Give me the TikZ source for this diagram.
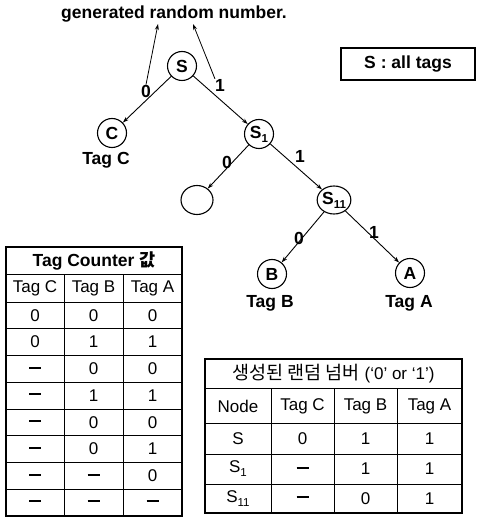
\documentclass[tikz,border=0pt]{standalone}
\usepackage{fontspec}
\setmainfont{Liberation Sans}
\newfontfamily\kr{Noto Sans CJK KR}
\usetikzlibrary{shapes.geometric,arrows.meta}
\newcommand\lowidx[1]{\raisebox{-0.45ex}{\fontsize{11.5}{11.5}\selectfont#1}}
\newcommand\nil{\rule[0.3ex]{12pt}{2pt}}
\begin{document}
\begin{tikzpicture}[x=1pt,y=-1pt,
  tnode/.style={draw,circle,minimum size=29pt,inner sep=0pt,line width=1.1pt,
    font=\fontsize{17.5}{20}\selectfont\bfseries},
  tovl/.style={tnode,ellipse,minimum width=32pt,minimum height=29pt},
  btxt/.style={inner sep=0pt,font=\fontsize{17.5}{20}\selectfont\bfseries},
  edge/.style={line width=0.9pt,-{Stealth[length=6pt,width=4pt]}},
  ptr/.style={line width=0.8pt,-{Stealth[length=6pt,width=4pt]}},
  cell/.style={inner sep=0pt,font=\fontsize{17}{19}\selectfont},
  outer/.style={line width=2.4pt},
  inner/.style={line width=0.9pt}]
\useasboundingbox (0,0) rectangle (476,518);

% heading of the pointers
\node[btxt] (gen) at (174,14) {generated random number.};
\coordinate (t0) at (158,24);
\coordinate (t1) at (193,24);

% legend
\node[draw,line width=2.4pt,minimum width=134pt,minimum height=32pt,btxt] (legend) at (408,64) {S : all tags};

% tree
\node[tnode] (S) at (182,66) {S};
\node[tnode] (C) at (112,133) {C};
\node[tnode] (S1) at (259,134) {S\lowidx{1}};
\node[tovl] (E) at (197,200) {};
\node[tovl,minimum width=33pt,minimum height=28pt] (S11) at (334,200) {S\lowidx{11}};
\node[tnode] (B) at (272,274) {B};
\node[tnode] (A) at (410,273) {A};

\node[btxt] (tagC) at (106,160) {Tag C};
\node[btxt] (tagB) at (270,303) {Tag B};
\node[btxt] (tagA) at (409,303) {Tag A};

\draw[edge] (S) -- (C);
\draw[edge] (S) -- (S1);
\draw[edge] (S1) -- (E);
\draw[edge] (S1) -- (S11);
\draw[edge] (S11) -- (B);
\draw[edge] (S11) -- (A);

\node[btxt] (l0) at (146,91) {0};
\node[btxt] (l1) at (220,85) {1};
\node[btxt] (l2) at (227,162) {0};
\node[btxt] (l3) at (300,156) {1};
\node[btxt] (l4) at (299,238) {0};
\node[btxt] (l5) at (374,232) {1};

\draw[ptr] (l0.north) -- (t0);
\draw[ptr] (l1.north west) -- (t1);

% tag counter table
\draw[inner] (6,274) -- (182,274);
\foreach \y in {302,328.75,355.5,382.25,409,435.75,462.5,489.25}
  \draw[inner] (6,\y) -- (182,\y);
\draw[inner] (64,274) -- (64,516);
\draw[inner] (123,274) -- (123,516);
\draw[outer] (6,247) rectangle (182,516);
\node[cell,font=\fontsize{17.5}{19}\selectfont\bfseries] (ctitle) at (94,261) {Tag Counter {\kr 값}};
\node[cell] (ch1) at (35,288) {Tag C};
\node[cell] (ch2) at (93.5,288) {Tag B};
\node[cell] (ch3) at (152.5,288) {Tag A};
\foreach \a/\b/\c [count=\i] in {0/0/0,0/1/1,\nil/0/0,\nil/1/1,\nil/0/0,\nil/0/1,\nil/\nil/0,\nil/\nil/\nil}{
  \pgfmathsetmacro\yy{302+26.75*(\i-0.5)}
  \node[cell] (cc\i a) at (35,\yy) {\a};
  \node[cell] (cc\i b) at (93.5,\yy) {\b};
  \node[cell] (cc\i c) at (152.5,\yy) {\c};
}

% random number table
\draw[inner] (205,388) -- (462,388);
\draw[inner] (205,423) -- (462,423);
\draw[inner] (205,454) -- (462,454);
\draw[inner] (205,484) -- (462,484);
\foreach \x in {271,334,397}
  \draw[inner] (\x,388) -- (\x,513);
\draw[outer] (205,359) rectangle (462,513);
\node[cell] (rtitle) at (333.5,374) {{\kr\fontsize{18.5}{20}\selectfont 생성된 랜덤 넘버} (‘0’ or ‘1’)};
\node[cell] (rh0) at (238,406) {Node};
\node[cell] (rh1) at (302.5,406) {Tag C};
\node[cell] (rh2) at (365.5,406) {Tag B};
\node[cell] (rh3) at (429.5,406) {Tag A};
\node[cell] (r1n) at (238,439) {S};
\node[cell] (r1a) at (302.5,439) {0};
\node[cell] (r1b) at (365.5,439) {1};
\node[cell] (r1c) at (429.5,439) {1};
\node[cell] (r2n) at (238,469) {S\lowidx{1}};
\node[cell] (r2a) at (302.5,469) {\nil};
\node[cell] (r2b) at (365.5,469) {1};
\node[cell] (r2c) at (429.5,469) {1};
\node[cell] (r3n) at (238,498.5) {S\lowidx{11}};
\node[cell] (r3a) at (302.5,498.5) {\nil};
\node[cell] (r3b) at (365.5,498.5) {0};
\node[cell] (r3c) at (429.5,498.5) {1};
\end{tikzpicture}
\end{document}
